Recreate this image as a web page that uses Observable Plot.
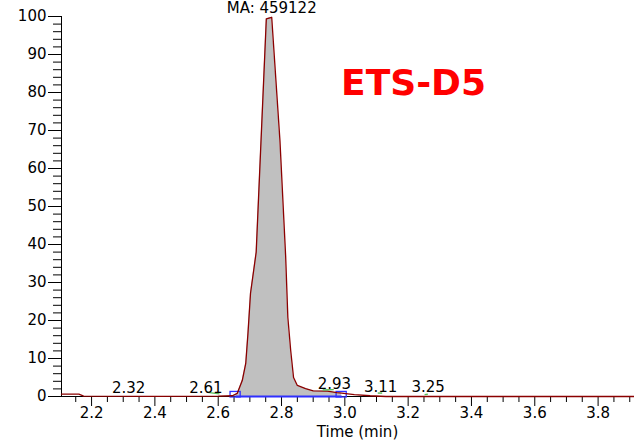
<!DOCTYPE html>
<html>
<head>
<meta charset="utf-8">
<script src="https://cdn.jsdelivr.net/npm/d3@7"></script>
<script src="https://cdn.jsdelivr.net/npm/@observablehq/plot@0.6"></script>
<style>
  html, body { margin: 0; padding: 0; background: #fff; }
  #chart svg { display: block; }
</style>
</head>
<body>
<div id="chart"></div>
<script>
// Chromatogram trace (time in minutes, relative intensity %)
const timeMin = [2.105, 2.160, 2.175, 2.400, 2.600, 2.645, 2.660, 2.676, 2.687, 2.694, 2.702, 2.720,
                 2.752, 2.769, 2.795, 2.813, 2.820, 2.829, 2.838, 2.850, 2.876, 2.900, 2.945, 2.975,
                 2.990, 3.030, 3.080, 3.130, 3.915];
const signal  = [0.6, 0.6, 0.1, 0.05, 0.1, 0.2, 0.8, 4.2, 8.7, 16.6, 27.1, 38.0,
                 99.4, 99.8, 67.4, 37.0, 20.8, 12.1, 5.0, 2.9, 2.1, 1.5, 1.4, 1.0,
                 0.9, 0.5, 0.2, 0.0, 0.0];

// Axis ticks
const xDomain = [2.105, 3.915];
const xTicks = [2.2, 2.4, 2.6, 2.8, 3.0, 3.2, 3.4, 3.6, 3.8];
const yTicks = [0, 10, 20, 30, 40, 50, 60, 70, 80, 90, 100];

// Peak retention-time labels
const peakLabels  = ["2.32", "2.61", "2.93", "3.11", "3.25"];
const labelTime   = [2.317, 2.561, 2.967, 3.113, 3.263];
const labelHeight = [0.05, 0.05, 1.1, 0.2, 0.1];

// Small fitted-peak marks (green)
const fitT1 = [2.566, 2.930, 3.104, 3.252];
const fitT2 = [2.604, 2.965, 3.118, 3.262];
const fitV1 = [1.1, 1.7, 0.9, 0.5];
const fitV2 = [0.7, 1.8, 0.9, 0.6];

// Main peak integration
const integT = [2.655, 2.990];
const mainAreaLabel = "MA: 459122";
const sampleName = "ETS-D5";

const trace = timeMin.map((t, i) => ({t, v: signal[i]}));
const integrated = trace.filter(d => d.t >= integT[0] - 0.011 && d.t <= integT[1]);
const labels = peakLabels.map((s, i) => ({s, t: labelTime[i], v: labelHeight[i]}));
const fits = fitT1.map((t1, i) => ({t1, t2: fitT2[i], v1: fitV1[i], v2: fitV2[i]}));
const apex = trace.reduce((a, b) => (b.v > a.v ? b : a));
const minorX = d3.range(2.15, 3.9001, 0.05).map(d => +d.toFixed(2)).filter(d => !xTicks.some(m => Math.abs(m - d) < 1e-6));
const minorY = d3.range(0, 100.001, 2).filter(d => d % 10 !== 0);

const font = "DejaVu Sans";

const chart = Plot.plot({
  width: 634,
  height: 442,
  marginLeft: 61,
  marginRight: 0,
  marginTop: 16,
  marginBottom: 46,
  style: {fontFamily: font, fontSize: "15px", color: "black", background: "white"},
  x: {domain: xDomain, axis: null},
  y: {domain: [0, 100], axis: null},
  marks: [
    // gray integrated area
    Plot.areaY(integrated, {x: "t", y: "v", fill: "#c0c0c0"}),
    // axis lines
    Plot.ruleX([xDomain[0]], {y1: 0, y2: 100, stroke: "black", strokeWidth: 1}),
    Plot.ruleY([0], {stroke: "black", strokeWidth: 1}),
    // y axis ticks
    Plot.axisY(yTicks, {anchor: "left", tickSize: 13, tickPadding: 2, fontSize: 15}),
    Plot.axisY(minorY, {anchor: "left", tickSize: 8, tickFormat: () => ""}),
    // x axis ticks
    Plot.axisX(xTicks, {anchor: "bottom", tickSize: 10, tickPadding: 1, fontSize: 15, tickFormat: d3.format(".1f")}),
    Plot.axisX(minorX, {anchor: "bottom", tickSize: 6, tickFormat: () => ""}),
    // integration baseline and markers
    Plot.link([{a: integT[0], b: integT[1]}], {x1: "a", x2: "b", y1: 0, y2: 0, stroke: "#2f2fff", strokeWidth: 2.2}),
    Plot.rect(integT, {x1: d => d - 0.016, x2: d => d + 0.016, y1: -0.25, y2: 1.2, fill: "none", stroke: "#2f2fff", strokeWidth: 1.3}),
    // trace
    Plot.lineY(trace, {x: "t", y: "v", stroke: "#8b0000", strokeWidth: 1.3}),
    // green fitted marks
    Plot.link(fits, {x1: "t1", x2: "t2", y1: "v1", y2: "v2", stroke: "#55bb55", strokeWidth: 1.4}),
    // peak labels
    Plot.text(labels, {x: "t", y: "v", text: "s", dy: -8.5, lineAnchor: "middle", fontSize: 15, fill: "black"}),
    Plot.text([apex], {x: "t", y: "v", text: () => mainAreaLabel, dy: -9, lineAnchor: "middle", fontSize: 15, fill: "black"}),
    // sample name
    Plot.text([sampleName], {x: 3.217, y: 82.4, text: d => d, lineAnchor: "middle", fontSize: 36, fontWeight: "bold", fill: "#ff0000"}),
    // axis title
    Plot.text(["Time (min)"], {frameAnchor: "bottom", text: d => d, dx: 9.5, dy: 36, lineAnchor: "middle", fontSize: 15, fill: "black"})
  ]
});

document.getElementById("chart").appendChild(chart);
</script>
</body>
</html>
